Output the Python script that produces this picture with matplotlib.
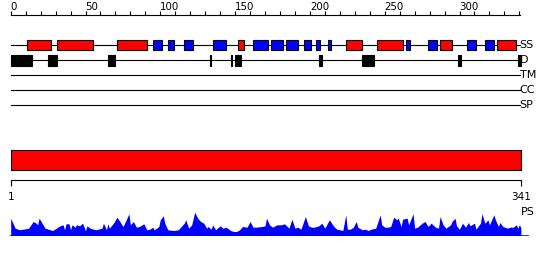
import matplotlib
matplotlib.use('Agg')
import matplotlib.pyplot as plt
from matplotlib.patches import Rectangle

LENGTH = 341

# secondary structure: helices (red) and strands (blue), residue ranges
helix = [(11, 27), (31, 55), (71, 91), (152, 156), (224, 235), (245, 262),
         (287, 295), (325, 338)]
strand = [(95, 101), (105, 109), (116, 122), (135, 144), (162, 172), (174, 182),
          (184, 192), (196, 201), (204, 207), (212, 214), (264, 267), (279, 285),
          (305, 311), (317, 323)]
# disorder regions
disorder = [(0, 14), (25, 31), (65, 70), (133, 134), (147, 148), (150, 154),
            (206, 208), (235, 243), (299, 301), (339, 341)]

tracks = ['SS', 'D', 'TM', 'CC', 'SP']
ruler_ticks = list(range(0, 341, 10))
ruler_labels = list(range(0, 301, 50))

# PS profile (position, score)
ps_pos = [0, 3, 6, 12, 15, 17, 18, 19, 21, 23, 28, 33, 35, 36, 37, 39, 40, 41, 43, 44,
          46, 48, 50, 51, 53, 57, 61, 62, 64, 65, 66, 69, 71, 73, 75, 76, 79, 80, 82, 84,
          86, 89, 91, 93, 95, 96, 99, 100, 102, 103, 105, 109, 112, 114, 116, 117, 119,
          121, 123, 125, 127, 129, 131, 132, 134, 135, 137, 140, 142, 144, 147, 149, 151,
          153, 155, 158, 160, 162, 164, 168, 170, 171, 173, 175, 178, 181, 183, 186, 188,
          190, 192, 194, 197, 199, 201, 203, 206, 208, 210, 213, 216, 218, 220, 222, 224,
          225, 227, 229, 231, 232, 235, 237, 239, 241, 244, 247, 248, 250, 252, 254, 256,
          258, 259, 261, 262, 265, 266, 269, 270, 272, 275, 277, 279, 281, 284, 286, 287,
          289, 291, 294, 295, 297, 298, 300, 302, 304, 306, 307, 310, 311, 314, 315, 317,
          319, 320, 323, 324, 326, 327, 329, 332, 334, 336, 338, 339, 340, 341]
ps_val = [17.3, 7.3, 5.7, 7.3, 14, 12.3, 10.7, 17.3, 12.3, 7.3, 5, 9.7, 10.7, 5.7, 11.7,
          11.7, 5.7, 10.7, 8.3, 10.7, 9.7, 12.3, 4.7, 9.7, 7.3, 5.7, 7.3, 12.3, 5.7, 11.7,
          7.3, 13, 18.3, 14, 9, 11.7, 21.7, 10.7, 14, 8.3, 9, 11.7, 5.7, 6.3, 8.3, 5.7, 9,
          15.7, 19.7, 12.3, 5.7, 5, 5.7, 9, 12.3, 15.7, 7.3, 10.7, 23.3, 17.3, 14, 12.3,
          7.3, 9, 6.3, 10.7, 5.7, 9.7, 7.3, 8.3, 5, 4, 4, 5.7, 9, 8.3, 14, 8.3, 8.3, 9,
          9.7, 17.3, 10.7, 8.3, 10.7, 10.7, 11.7, 7.3, 16.3, 7.3, 8.3, 6.3, 19, 9.7, 8.3,
          8.3, 9.7, 12.3, 7.3, 15.7, 9, 6.3, 5.7, 5, 20.7, 6.3, 6.3, 8.3, 14, 8.3, 5.7,
          6.3, 5, 6.3, 7.3, 20.7, 10.7, 8.3, 8.3, 9, 18.3, 15.7, 17.3, 9, 16.3, 17.3,
          10.7, 21.7, 7.3, 8.3, 12.3, 14, 9, 12.3, 8.3, 7.3, 19, 10.7, 7.3, 10.7, 14,
          17.3, 9.7, 6.3, 12.3, 8.3, 13, 9.7, 12.3, 6.3, 12.3, 21.7, 12.3, 15.7, 10.7,
          20.7, 15.7, 9, 13, 9, 7.3, 8.3, 8.3, 10.7, 7.3, 10.7, 8]

# pixel layout: residue 0 at x=10.7px, 1.496 px per residue
X0, X1 = -10.7 / 1.496, (550 - 10.7) / 1.496

fig = plt.figure(figsize=(5.5, 2.6), dpi=100)
ax = fig.add_axes([0, 0, 1, 1])
ax.set_xlim(X0, X1)
ax.set_ylim(260, 0)
ax.axis('off')

# top ruler
ax.plot([0, 340.4], [15, 15], color='k', lw=0.8)
ax.vlines(ruler_ticks, 11, 15, color='k', lw=0.8)
for t in ruler_labels:
    ax.text(t, 9.8, str(t), ha='left', va='baseline', fontsize=7.4)

# feature tracks
track_y = [45, 60, 75, 90, 105]
for name, y in zip(tracks, track_y):
    ax.plot([0, 340.4], [y, y], color='k', lw=0.8, zorder=1)
    ax.text(340.2, y, name, ha='left', va='center', fontsize=8)

for s, e in helix:
    ax.add_patch(Rectangle((s, 40), e - s, 10, fc='#ff0000', ec='k', lw=0.8, zorder=2))
for s, e in strand:
    ax.add_patch(Rectangle((s, 40), e - s, 10, fc='#0000ff', ec='k', lw=0.8, zorder=2))
for s, e in disorder:
    ax.add_patch(Rectangle((s, 55), e - s, 11, fc='k', ec='k', lw=0.8, zorder=2))

# full-length domain bar
ax.add_patch(Rectangle((0, 150), LENGTH, 20, fc='#ff0000', ec='k', lw=0.8))
ax.plot([0, LENGTH], [180, 180], color='k', lw=0.8)
ax.vlines([0, LENGTH], 180, 186, color='k', lw=0.8)
ax.text(0.5, 191.5, '1', ha='center', va='top', fontsize=7.5)
ax.text(LENGTH, 191.5, str(LENGTH), ha='center', va='top', fontsize=7.5)
ax.text(341, 215, 'PS', ha='left', va='baseline', fontsize=8)

# PS profile
ax2 = fig.add_axes([0, (260 - 235.5) / 260, 1, 24 / 260])
ax2.set_xlim(X0, X1)
ax2.set_ylim(0, 24)
ax2.axis('off')
ax2.fill_between(ps_pos, ps_val, 0, color='#0000ff', lw=0)
ax2.plot([0, 345.5], [0, 0], color='#0000ff', lw=1.2)

fig.savefig('out.png', dpi=100)
